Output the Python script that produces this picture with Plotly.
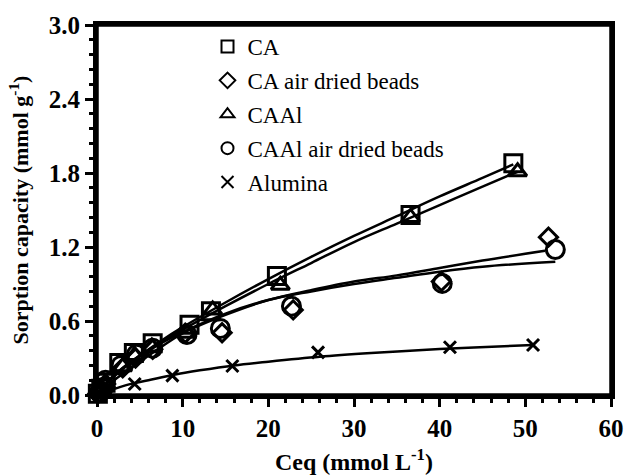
import plotly.graph_objects as go

# ---- measured points ----
ca_x = [0.1, 0.5, 1.0, 2.6, 4.3, 6.5, 10.8, 13.3, 21.0, 36.6, 48.6]
ca_y = [0.01, 0.05, 0.10, 0.26, 0.34, 0.42, 0.57, 0.68, 0.965, 1.46, 1.88]

caad_x = [0.1, 0.5, 1.0, 3.0, 4.5, 6.5, 10.3, 14.6, 22.9, 40.2, 52.7]
caad_y = [0.01, 0.04, 0.09, 0.22, 0.30, 0.37, 0.50, 0.505, 0.69, 0.92, 1.28]

caal_x = [0.2, 0.6, 1.0, 3.0, 4.4, 6.4, 10.5, 13.5, 21.4, 36.6, 49.1]
caal_y = [0.02, 0.05, 0.09, 0.23, 0.32, 0.39, 0.50, 0.69, 0.89, 1.44, 1.81]

caalad_x = [0.3, 0.7, 1.0, 2.8, 4.6, 6.5, 10.5, 14.4, 22.7, 40.3, 53.5]
caalad_y = [0.02, 0.06, 0.12, 0.24, 0.33, 0.38, 0.49, 0.54, 0.72, 0.905, 1.18]

al_x = [0.2, 1.2, 4.4, 8.8, 15.8, 25.8, 41.2, 50.9]
al_y = [0.01, 0.03, 0.089, 0.157, 0.235, 0.346, 0.387, 0.405]

# ---- fitted curves ----
fit_ca_x = [0, 0.5, 1, 2, 3, 5, 7.5, 10, 15, 20, 25, 30, 35, 40, 45, 48.6]
fit_ca_y = [0, 0.05, 0.09, 0.16, 0.22, 0.32, 0.44, 0.55, 0.75, 0.94, 1.12, 1.29, 1.45, 1.61, 1.76, 1.87]

fit_caal_x = [0, 0.5, 1, 2, 3, 5, 7.5, 10, 15, 20, 25, 30, 35, 40, 45, 49.1]
fit_caal_y = [0, 0.05, 0.09, 0.16, 0.22, 0.32, 0.43, 0.53, 0.72, 0.90, 1.07, 1.24, 1.39, 1.54, 1.69, 1.81]

fit_caalad_x = [0, 1, 2, 3, 5, 7.5, 10, 15, 20, 25, 30, 35, 40, 45, 52.3]
fit_caalad_y = [0, 0.06, 0.12, 0.17, 0.27, 0.39, 0.50, 0.65, 0.77, 0.85, 0.92, 0.97, 1.03, 1.09, 1.17]

fit_caad_x = [0, 1, 2, 3, 5, 7.5, 10, 15, 20, 25, 30, 35, 40, 45, 53.5]
fit_caad_y = [0, 0.08, 0.15, 0.21, 0.31, 0.42, 0.51, 0.66, 0.77, 0.84, 0.90, 0.95, 1.00, 1.04, 1.08]

fit_al_x = [0, 0.5, 1, 2, 4, 6, 9, 12, 16, 20, 26, 32, 38, 44, 50.9]
fit_al_y = [0, 0.015, 0.03, 0.05, 0.09, 0.12, 0.165, 0.2, 0.24, 0.27, 0.31, 0.34, 0.365, 0.385, 0.405]

x_range = [0, 60]
y_range = [0, 3.0]
x_step, x_minor_step = 10, 2
y_step, y_minor_step = 0.6, 0.12

names = ["CA", "CA air dried beads", "CAAl", "CAAl air dried beads", "Alumina"]
symbols = ["square-open", "diamond-open", "triangle-up-open", "circle-open", "x-thin-open"]
sizes = [17, 14, 16, 18, 12]
pts = [(ca_x, ca_y), (caad_x, caad_y), (caal_x, caal_y), (caalad_x, caalad_y), (al_x, al_y)]
fits = [(fit_ca_x, fit_ca_y), (fit_caad_x, fit_caad_y), (fit_caal_x, fit_caal_y),
        (fit_caalad_x, fit_caalad_y), (fit_al_x, fit_al_y)]

FONT = "Liberation Serif"
fig = go.Figure()

for (fx, fy) in fits:
    fig.add_trace(go.Scatter(x=fx, y=fy, mode="lines", line=dict(color="black", width=2.5, shape="spline"),
                             showlegend=False, hoverinfo="skip"))

for i, (px, py) in enumerate(pts):
    fig.add_trace(go.Scatter(x=px, y=py, mode="markers", name=names[i], legendgroup=names[i],
                             marker=dict(symbol=symbols[i], size=sizes[i], color="black",
                                         line=dict(color="black", width=3)),
                             cliponaxis=False))

# empty trace so the minor-tick overlay axes are drawn
fig.add_trace(go.Scatter(x=[None], y=[None], xaxis="x2", yaxis="y2", mode="markers",
                         showlegend=False, hoverinfo="skip"))

fig.update_layout(
    width=624, height=475,
    margin=dict(l=97, r=13, t=25, b=80, autoexpand=False),
    plot_bgcolor="white", paper_bgcolor="white",
    font=dict(family=FONT, color="black"),
    legend=dict(x=0.215, y=1.0, xanchor="left", yanchor="top", font=dict(family=FONT, size=23, color="black"),
                bgcolor="rgba(0,0,0,0)", tracegroupgap=1, itemsizing="constant"),
    showlegend=True,
    shapes=[dict(type="rect", xref="paper", yref="paper", x0=0, y0=0, x1=1, y1=1,
                 line=dict(color="black", width=3.5), fillcolor="rgba(0,0,0,0)", layer="above")],
    xaxis=dict(
        range=x_range, tickmode="linear", tick0=0, dtick=x_step,
        ticks="outside", ticklen=8, tickwidth=3, tickcolor="black",
        showline=True, linewidth=4, linecolor="black", mirror=True,
        showgrid=False, zeroline=False, automargin=False, layer="above traces",
        tickprefix="<b>", ticksuffix="</b>",
        tickfont=dict(family=FONT, size=25, color="black"),
        title=dict(text="<b>Ceq (mmol L<sup>-1</sup>)</b>", font=dict(family=FONT, size=24, color="black")),
    ),
    yaxis=dict(
        range=y_range, tickmode="linear", tick0=0, dtick=y_step, tickformat=".1f",
        ticks="outside", ticklen=8, tickwidth=3, tickcolor="black",
        showline=True, linewidth=4, linecolor="black", mirror=True,
        showgrid=False, zeroline=False, automargin=False, layer="above traces",
        tickprefix="<b>", ticksuffix="</b>",
        tickfont=dict(family=FONT, size=25, color="black"),
        title=dict(text="<b>Sorption capacity (mmol g<sup>-1</sup>)</b>", font=dict(family=FONT, size=22, color="black")),
    ),
    xaxis2=dict(
        overlaying="x", anchor="y", side="bottom", range=x_range,
        tickmode="linear", tick0=0, dtick=x_minor_step,
        ticks="outside", ticklen=7, tickwidth=3, tickcolor="black",
        showticklabels=False, showline=False, showgrid=False, zeroline=False, automargin=False,
    ),
    yaxis2=dict(
        overlaying="y", anchor="x", side="left", range=y_range,
        tickmode="linear", tick0=0, dtick=y_minor_step,
        ticks="outside", ticklen=7, tickwidth=3, tickcolor="black",
        showticklabels=False, showline=False, showgrid=False, zeroline=False, automargin=False,
    ),
)

fig.write_html("out.html")
